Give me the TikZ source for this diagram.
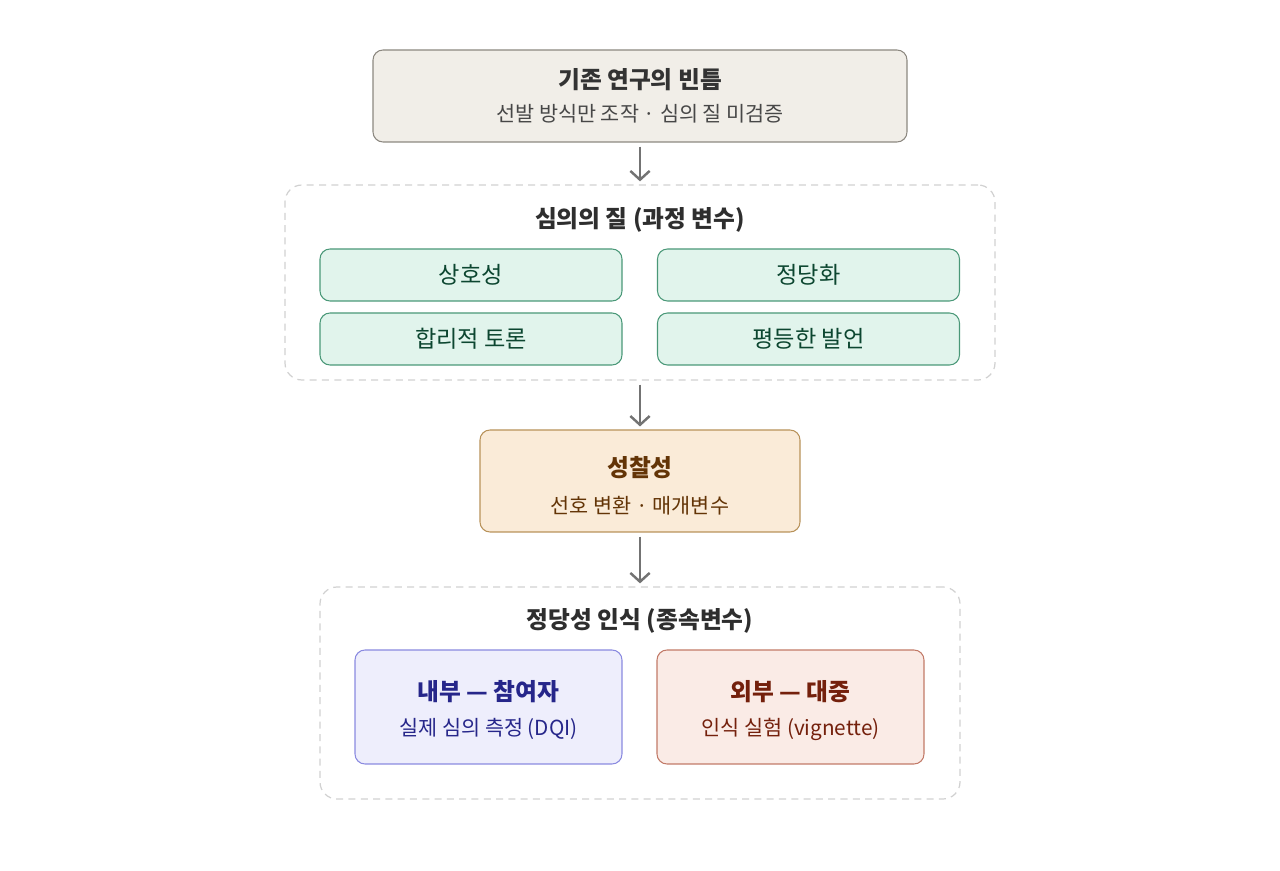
\documentclass[tikz,border=0pt]{standalone}
\usepackage{fontspec}
\setmainfont{Noto Sans CJK KR}
\usepackage{tikz}
\usetikzlibrary{arrows.meta,shapes}
\definecolor{gapfill}{HTML}{F1EEE8}
\definecolor{gapdraw}{HTML}{8C8880}
\definecolor{grnfill}{HTML}{E1F4EC}
\definecolor{grndraw}{HTML}{4A9878}
\definecolor{grntext}{HTML}{0C4630}
\definecolor{orgfill}{HTML}{FAEBD8}
\definecolor{orgdraw}{HTML}{B8925A}
\definecolor{orgtext}{HTML}{633406}
\definecolor{blufill}{HTML}{EEEEFC}
\definecolor{bludraw}{HTML}{8A8AE0}
\definecolor{blutext}{HTML}{26268A}
\definecolor{redfill}{HTML}{FAEBE6}
\definecolor{reddraw}{HTML}{C27A68}
\definecolor{redtext}{HTML}{74200C}
\tikzstyle{box}=[draw,rounded corners=0.2cm,line width=0.6pt,align=center,inner sep=0pt]
\tikzstyle{group}=[draw=black!18,dashed,dash pattern=on 4pt off 3pt,rounded corners=0.34cm,line width=0.7pt,inner sep=0pt]
\tikzstyle{item}=[box,fill=grnfill,draw=grndraw,text=grntext,minimum width=6.04cm,minimum height=1.04cm,font=\fontsize{13.2}{15}\selectfont]
\tikzstyle{flow}=[draw=black!55,line width=1.4pt,-{Straight Barb[length=5pt,width=11pt]},shorten <=0.08cm,shorten >=0.06cm]
\tikzstyle{head}=[font=\fontsize{13.5}{16}\selectfont\bfseries]
\tikzstyle{sub}=[font=\fontsize{11.8}{14}\selectfont]

\begin{document}
\begin{tikzpicture}
    \useasboundingbox (0,0) rectangle (25.6,-17.42);

    % gap in earlier work
    \node[box,fill=gapfill,draw=gapdraw,minimum width=10.68cm,minimum height=1.84cm] (gap) at (12.8,-1.92) {};
    \node[head,text=black!80] (gaptitle) at (12.8,-1.6) {기존 연구의 빈틈};
    \node[sub,text=black!72] (gapsub) at (12.8,-2.28) {선발 방식만 조작 · 심의 질 미검증};

    % process variables
    \node[group,minimum width=14.2cm,minimum height=3.9cm] (quality) at (12.8,-5.65) {};
    \node[font=\fontsize{13.5}{16}\selectfont\bfseries,text=black!82] (qualitytitle) at (12.8,-4.4) {심의의 질 (과정 변수)};
    \foreach \pos/\name/\txt in {{(9.42,-5.5)/inter/상호성}, {(16.17,-5.5)/justi/정당화},
        {(9.42,-6.78)/ratio/합리적 토론}, {(16.17,-6.78)/equal/평등한 발언}}
        \node[item] (\name) at \pos {\txt};

    % mediator
    \node[box,fill=orgfill,draw=orgdraw,minimum width=6.4cm,minimum height=2.04cm] (refl) at (12.8,-9.62) {};
    \node[head,text=orgtext] (refltitle) at (12.8,-9.36) {성찰성};
    \node[sub,text=orgtext] (reflsub) at (12.8,-10.12) {선호 변환 · 매개변수};

    % dependent variables
    \node[group,minimum width=12.8cm,minimum height=4.24cm] (legit) at (12.8,-13.86) {};
    \node[font=\fontsize{13.5}{16}\selectfont\bfseries,text=black!82] (legittitle) at (12.8,-12.42) {정당성 인식 (종속변수)};
    \node[box,fill=blufill,draw=bludraw,minimum width=5.34cm,minimum height=2.28cm] (inside) at (9.77,-14.14) {};
    \node[head,text=blutext] (insidetitle) at (9.77,-13.84) {내부 — 참여자};
    \node[sub,text=blutext] (insidesub) at (9.77,-14.58) {실제 심의 측정 (DQI)};
    \node[box,fill=redfill,draw=reddraw,minimum width=5.34cm,minimum height=2.28cm] (outside) at (15.81,-14.14) {};
    \node[head,text=redtext] (outsidetitle) at (15.81,-13.84) {외부 — 대중};
    \node[sub,text=redtext] (outsidesub) at (15.81,-14.58) {인식 실험 (vignette)};

    % arrows
    \foreach \source/\dest in {gap/quality, quality/refl, refl/legit}
        \path[flow] (\source) -- (\dest);

\end{tikzpicture}
\end{document}
